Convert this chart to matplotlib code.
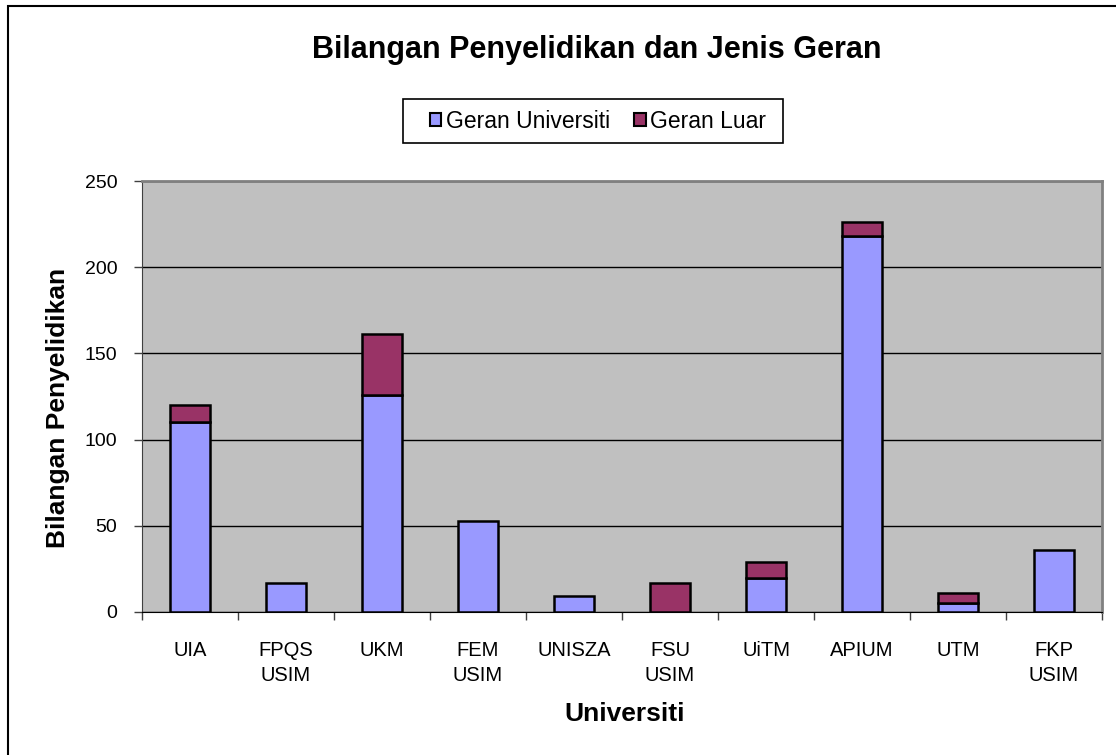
import matplotlib
matplotlib.use("Agg")
import matplotlib.pyplot as plt
from matplotlib.patches import Rectangle, Patch
import numpy as np

categories = ["UIA", "FPQS\nUSIM", "UKM", "FEM\nUSIM", "UNISZA", "FSU\nUSIM", "UiTM", "APIUM", "UTM", "FKP\nUSIM"]
geran_universiti = [110, 17, 126, 53, 9, 0, 20, 218, 5, 36]
geran_luar = [10, 0, 35, 0, 0, 17, 9, 8, 6, 0]
yticks = [0, 50, 100, 150, 200, 250]

plt.rcParams['font.family'] = ['Liberation Sans', 'DejaVu Sans']

W, H = 1116, 755
fig = plt.figure(figsize=(W / 100, H / 100), dpi=100)
fig.patch.set_facecolor("white")

# chart border
fig.patches.append(Rectangle((8 / W, -0.01), 1.1, (H - 6) / H + 0.01, transform=fig.transFigure,
                             fill=False, edgecolor="black", linewidth=1.5, zorder=0))

L, R, T, B = 142, 1102, 181, 612
ax = fig.add_axes([L / W, (H - B) / H, (R - L) / W, (B - T) / H])
ax.set_facecolor("#C0C0C0")

x = np.arange(len(categories))
ax.bar(x, geran_universiti, width=0.41, color="#9999FF", edgecolor="black", linewidth=1.8, zorder=3)
ax.bar(x, geran_luar, width=0.41, bottom=geran_universiti, color="#993366", edgecolor="black",
       linewidth=1.8, zorder=3)
for p in ax.patches:
    if p.get_height() == 0:
        p.set_visible(False)

ax.set_xlim(-0.5, len(categories) - 0.5)
ax.set_ylim(0, 250)
ax.set_yticks(yticks)
ax.set_yticklabels([str(v) for v in yticks], fontsize=14)
ax.yaxis.grid(True, color="black", linewidth=1.0, zorder=1)
ax.set_axisbelow(True)

ax.set_xticks(x)
ax.set_xticklabels(categories, fontsize=14.5, linespacing=1.38)
ax.set_xticks(np.arange(-0.5, len(categories), 1.0), minor=True)
ax.tick_params(axis="x", which="major", length=0, pad=21)
ax.tick_params(axis="x", which="minor", length=5.8, width=1, color="#404040")
ax.tick_params(axis="y", length=5.8, width=1, color="#404040", pad=12)

for s in ["top", "right"]:
    ax.spines[s].set_color("#808080")
    ax.spines[s].set_linewidth(2)
ax.spines["left"].set_color("#404040")
ax.spines["bottom"].set_color("black")

fig.text(625 / W, 1 - 714 / H, "Universiti", fontsize=19, fontweight="bold",
         ha="center", va="center")
fig.text(58 / W, 1 - 408 / H, "Bilangan Penyelidikan", fontsize=19, fontweight="bold",
         ha="center", va="center", rotation=90)

fig.text(597 / W, 1 - 50 / H, "Bilangan Penyelidikan dan Jenis Geran", fontsize=22,
         fontweight="bold", ha="center", va="center")

# legend frame
fig.patches.append(Rectangle((403 / W, 1 - 143 / H), 380 / W, 44 / H, transform=fig.transFigure,
                             fill=False, edgecolor="black", linewidth=1.2))
handles = [Patch(facecolor="#9999FF", edgecolor="black", linewidth=1.5),
           Patch(facecolor="#993366", edgecolor="black", linewidth=1.5)]
leg = fig.legend(handles, ["Geran Universiti", "Geran Luar"], loc="center",
                 bbox_to_anchor=(598 / W, 1 - 121 / H), ncol=2, fontsize=16.5,
                 frameon=False, handlelength=0.5,
                 handleheight=0.5, handletextpad=0.2, columnspacing=1.05, borderpad=0.45)

fig.savefig("out.png", dpi=100)
